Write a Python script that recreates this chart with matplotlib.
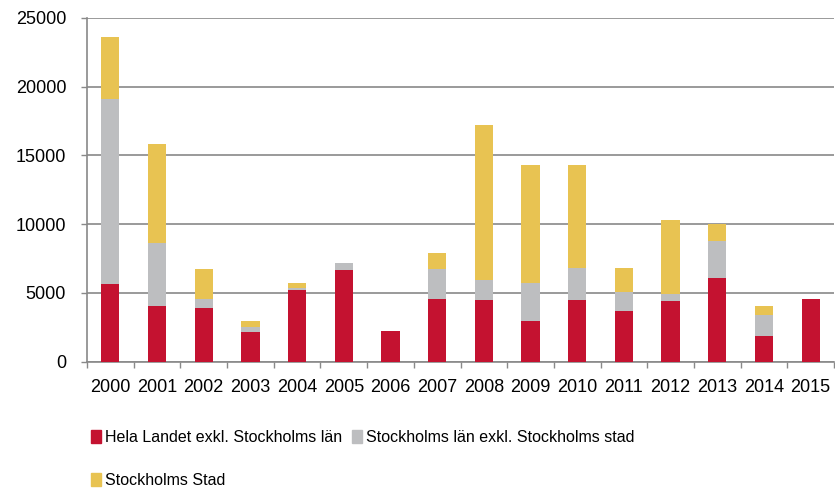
import numpy as np
import matplotlib.pyplot as plt
from matplotlib.patches import Patch

years = ['2000', '2001', '2002', '2003', '2004', '2005', '2006', '2007',
         '2008', '2009', '2010', '2011', '2012', '2013', '2014', '2015']
hela_landet = [5650, 4050, 3900, 2180, 5240, 6650, 2260, 4540,
               4490, 2980, 4470, 3710, 4420, 6070, 1850, 4560]
sthlm_lan = [13490, 4570, 630, 340, 120, 530, 0, 2180,
             1430, 2720, 2330, 1380, 510, 2690, 1530, 0]
sthlm_stad = [4470, 7200, 2190, 440, 340, 0, 0, 1170,
              11300, 8610, 7520, 1750, 5390, 1260, 680, 0]
labels = ['Hela Landet exkl. Stockholms län',
          'Stockholms län exkl. Stockholms stad',
          'Stockholms Stad']
colors = ['#C41230', '#BDBEC0', '#E8C352']

plt.rcParams['font.family'] = ['Liberation Sans', 'DejaVu Sans']

fig = plt.figure(figsize=(8.35, 4.91), dpi=100)
ax = fig.add_axes([87 / 835, 1 - 361.7 / 491, 747 / 835, (361.7 - 18) / 491])

x = np.arange(len(years))
w = 0.39
bottom = np.zeros(len(years))
for vals, col in zip([hela_landet, sthlm_lan, sthlm_stad], colors):
    ax.bar(x, vals, w, bottom=bottom, color=col, edgecolor='none', zorder=3)
    bottom += np.array(vals)

ax.set_xlim(-0.5, len(years) - 0.5)
ax.set_ylim(0, 25000)
ax.set_yticks(range(0, 25001, 5000))
ax.set_xticks(x)
ax.set_xticklabels(years)
ax.set_xticks(np.arange(-0.5, len(years)), minor=True)
ax.tick_params(axis='x', which='major', length=0, pad=12.5, labelsize=13)
ax.tick_params(axis='x', which='minor', length=4.5, color='#898989', width=1)
ax.tick_params(axis='y', length=4.5, color='#898989', width=1, labelsize=13, pad=10.5)
ax.yaxis.grid(True, color='#898989', linewidth=1.2, zorder=0)
for s in ['top', 'right']:
    ax.spines[s].set_visible(False)
for s in ['left', 'bottom']:
    ax.spines[s].set_color('#898989')
    ax.spines[s].set_linewidth(1.2)

handles = [Patch(color=c) for c in colors]
order = [0, 2, 1]
fig.legend([handles[i] for i in order], [labels[i] for i in order],
           loc='upper left', bbox_to_anchor=(91 / 835, 1 - 430 / 491),
           ncol=2, frameon=False, handlelength=0.65, handleheight=0.85,
           handletextpad=0.2, labelspacing=1.75, columnspacing=0.65,
           borderpad=0, borderaxespad=0, fontsize=11.5)

fig.savefig('out.png', dpi=100)
